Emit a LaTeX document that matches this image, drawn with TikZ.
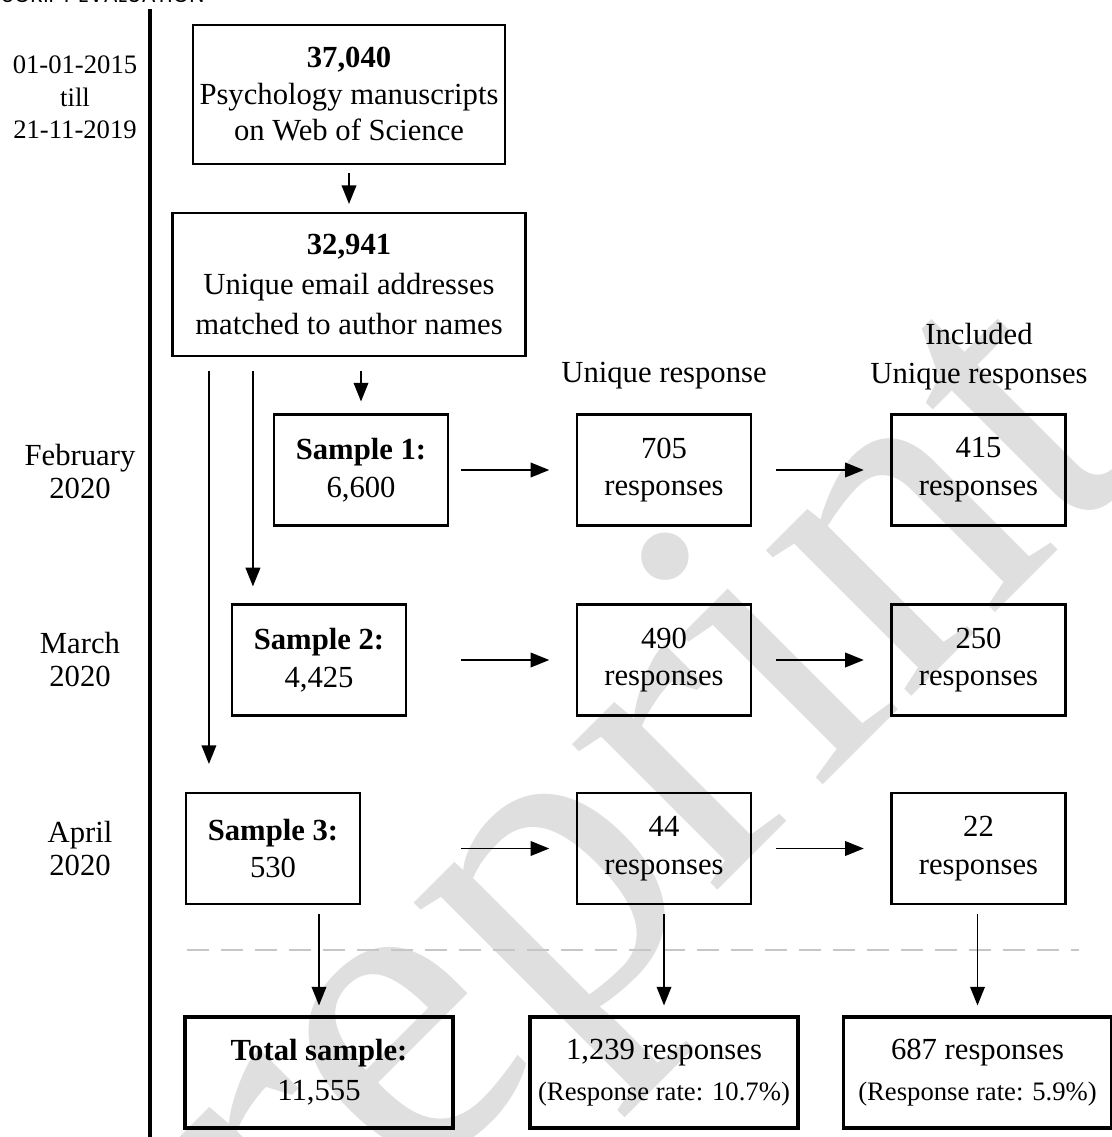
\documentclass[tikz,border=0pt]{standalone}
\usepackage{fontspec}
\setmainfont{Liberation Serif}
\newfontfamily\headfont{Poppins}
\usetikzlibrary{arrows.meta}

\tikzset{
  box/.style={draw, line width=0.8pt, align=center, inner sep=2pt,
    minimum width=65.25pt, minimum height=41.6pt,
    font=\fontsize{11.5}{14.2}\selectfont},
  totbox/.style={box, line width=1.2pt, minimum width=100.5pt,
    font=\fontsize{11.5}{15}\selectfont},
  arr/.style={line width=0.6pt, -{Triangle[length=7pt,width=5.5pt]}},
  lbl/.style={align=center, inner sep=0pt, font=\fontsize{11.5}{12.4}\selectfont},
}

\begin{document}
\begin{tikzpicture}[x=0.375pt, y=-0.375pt]
%		\draw[help lines] (0,0) grid (1112,1137);
		\useasboundingbox (0,0) rectangle (1112,1137);
		\node[rotate=45, anchor=base west, inner sep=0pt, text=gray!25, font=\fontsize{168}{168}\selectfont] (mark) at (130,1478) {Preprint};
		\node[anchor=base east, inner sep=0pt, font=\headfont\fontsize{8}{8}\selectfont] (head) at (205,3) {MANUSCRIPT EVALUATION};
		
		\draw[line width=1.5pt] (150,9) -- (150,1137);
		\node[lbl, font=\fontsize{10}{12.2}\selectfont] (period) at (75,97.5) {01-01-2015\\till\\21-11-2019};
		\node[lbl] (feb) at (80,471.5) {February\\2020};
		\node[lbl] (mar) at (80,659.5) {March\\2020};
		\node[lbl] (apr) at (80,848.5) {April\\2020};
		
		\node[box, minimum width=117pt, minimum height=52pt, font=\fontsize{11.5}{13.7}\selectfont] (manu) at (349,94.5) {\textbf{37,040}\\Psychology manuscripts\\on Web of Science};
		\node[box, minimum width=132.4pt, minimum height=53.6pt, font=\fontsize{11.5}{15}\selectfont] (emails) at (349,284.5) {\textbf{32,941}\\Unique email addresses\\matched to author names};
		
		\node[lbl] (hresp) at (664,376) {Unique response};
		\node[lbl, font=\fontsize{11.5}{14.6}\selectfont] (hincl) at (979,356.5) {Included\\Unique responses};
		
		\node[box] (s1) at (361,470) {\textbf{Sample 1:}\\6,600};
		\node[box] (r1) at (664,470) {705\\responses};
		\node[box] (i1) at (978.5,470) {415\\responses};
		
		\node[box] (s2) at (319,660) {\textbf{Sample 2:}\\4,425};
		\node[box] (r2) at (664,660) {490\\responses};
		\node[box] (i2) at (978.5,660) {250\\responses};
		
		\node[box] (s3) at (273,848.5) {\textbf{Sample 3:}\\530};
		\node[box] (r3) at (664,848.5) {44\\responses};
		\node[box] (i3) at (978.5,848.5) {22\\responses};
		
		\draw[gray!45, line width=1pt, dash pattern=on 8.25pt off 4.5pt] (187,950) -- (1079,950);
		
		\node[totbox] (stot) at (319,1072.5) {\textbf{Total sample:}\\11,555};
		\node[totbox] (rtot) at (664,1072.5) {1,239 responses\\[0.6pt]{\fontsize{10}{12}\selectfont (Response rate: 10.7\%)}};
		\node[totbox] (itot) at (977.5,1072.5) {687 responses\\[0.6pt]{\fontsize{10}{12}\selectfont (Response rate: 5.9\%)}};
		
		\coordinate (l2) at ([xshift=8.25pt]s2.north west);
		\coordinate (l3) at ([xshift=9pt]s3.north west);
		\draw[arr, shorten <=3pt, shorten >=3pt] (manu.south) -- (emails.north);
		\draw[arr, shorten <=5.25pt, shorten >=4.5pt] (s1.north |- emails.south) -- (s1.north);
		\draw[arr, shorten <=5.25pt, shorten >=6.4pt] (l2 |- emails.south) -- (l2);
		\draw[arr, shorten <=5.25pt, shorten >=10.5pt] (l3 |- emails.south) -- (l3);
		
		\draw[arr] ([xshift=-43pt]r1.west) -- ([xshift=-10pt]r1.west);
		\draw[arr] ([xshift=-43pt]i1.west) -- ([xshift=-10pt]i1.west);
		\draw[arr] ([xshift=-43pt]r2.west) -- ([xshift=-10pt]r2.west);
		\draw[arr] ([xshift=-43pt]i2.west) -- ([xshift=-10pt]i2.west);
		\draw[arr] ([xshift=-43pt]r3.west) -- ([xshift=-10pt]r3.west);
		\draw[arr] ([xshift=-43pt]i3.west) -- ([xshift=-10pt]i3.west);
		
		\draw[arr, shorten <=3.4pt, shorten >=3.75pt] (stot.north |- s3.south) -- (stot.north);
		\draw[arr, shorten <=3.4pt, shorten >=3.75pt] (r3.south) -- (rtot.north);
		\draw[arr, shorten <=3.4pt, shorten >=3.75pt] (itot.north |- i3.south) -- (itot.north);
	\end{tikzpicture}
\end{document}
